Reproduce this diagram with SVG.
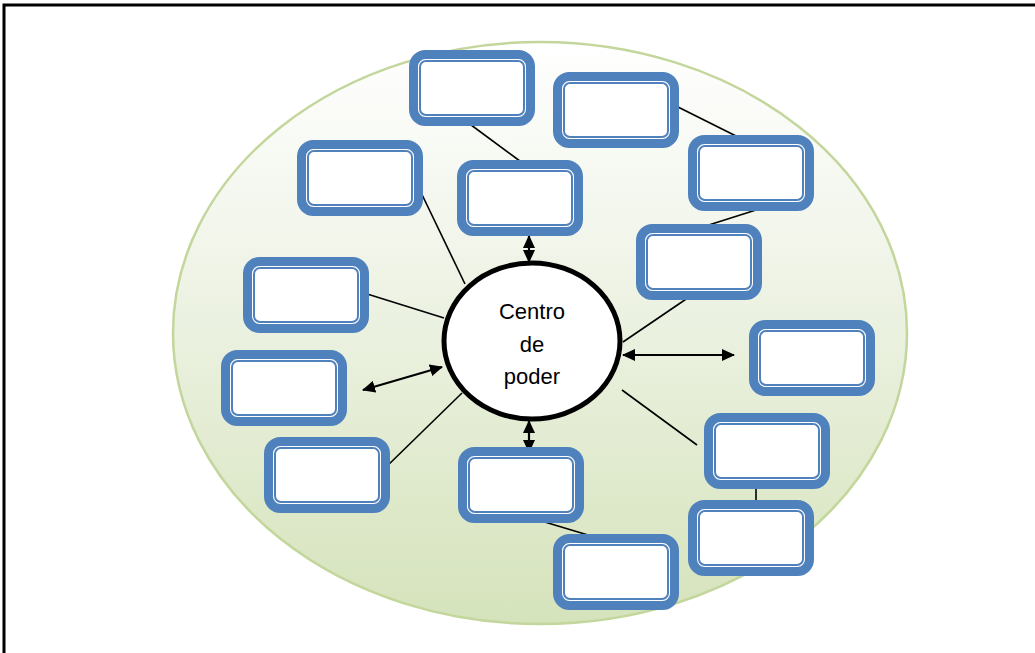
<svg xmlns="http://www.w3.org/2000/svg" width="1035" height="653" viewBox="0 0 1035 653">
  <defs>
    <linearGradient id="bg" x1="0" y1="0" x2="0" y2="1">
      <stop offset="0" stop-color="#ffffff"/>
      <stop offset="0.35" stop-color="#f1f5ea"/>
      <stop offset="1" stop-color="#d5e3bb"/>
    </linearGradient>
    <marker id="ah" viewBox="0 0 13 12" refX="12" refY="6" markerWidth="13" markerHeight="12" markerUnits="userSpaceOnUse" orient="auto-start-reverse">
      <path d="M0,0 L13,6 L0,12 Z" fill="#000"/>
    </marker>
    <g id="box">
      <rect x="4.5" y="4.5" width="117" height="67" rx="12" fill="#fff" stroke="#4f81bd" stroke-width="9"/>
      <rect x="11" y="11" width="104" height="54" rx="6" fill="#fff" stroke="#4f81bd" stroke-width="2"/>
    </g>
  </defs>
  <style>
    .ln { stroke: #000; stroke-width: 1.6; fill: none; }
    .arr { stroke: #000; stroke-width: 2.2; fill: none; marker-start: url(#ah); marker-end: url(#ah); }
    .lbl { font-family: "Liberation Sans", Arial, sans-serif; font-size: 22px; fill: #000; text-anchor: middle; }
  </style>

  <rect width="1035" height="653" fill="#fff"/>
  <!-- page frame -->
  <path d="M4,653 V5 H1035" fill="none" stroke="#000" stroke-width="3"/>

  <!-- background oval -->
  <ellipse id="field" cx="540" cy="333" rx="367" ry="291" fill="url(#bg)" stroke="#c3d69b" stroke-width="2.5"/>

  <!-- connectors -->
  <g id="connectors">
    <line class="ln" x1="463" y1="119" x2="528" y2="167"/>
    <line class="ln" x1="672" y1="104" x2="746" y2="141"/>
    <line class="ln" x1="756" y1="210" x2="693" y2="230"/>
    <line class="ln" x1="695" y1="293" x2="623" y2="342"/>
    <line class="ln" x1="415" y1="180" x2="465" y2="284"/>
    <line class="ln" x1="364" y1="293" x2="444" y2="318"/>
    <line class="ln" x1="383" y1="470" x2="462" y2="393"/>
    <line class="ln" x1="622" y1="390" x2="697" y2="445"/>
    <line class="ln" x1="756" y1="484" x2="756" y2="508"/>
    <line class="ln" x1="528" y1="517" x2="608" y2="541"/>
    <line class="arr" x1="529" y1="236" x2="529" y2="262"/>
    <line class="arr" x1="529" y1="421" x2="529" y2="452"/>
    <line class="arr" x1="623" y1="355" x2="734" y2="355"/>
    <line class="arr" x1="363" y1="390" x2="442" y2="367"/>
  </g>

  <!-- centre node -->
  <g id="centro">
    <ellipse cx="532" cy="341" rx="88" ry="78" fill="#fff" stroke="#000" stroke-width="5"/>
    <text class="lbl" x="532" y="319">Centro</text>
    <text class="lbl" x="532" y="352">de</text>
    <text class="lbl" x="532" y="384">poder</text>
  </g>

  <!-- surrounding boxes -->
  <use id="b1" href="#box" x="409" y="50"/>
  <use id="b2" href="#box" x="553" y="72"/>
  <use id="b3" href="#box" x="297" y="140"/>
  <use id="b4" href="#box" x="457" y="160"/>
  <use id="b5" href="#box" x="688" y="135"/>
  <use id="b6" href="#box" x="636" y="224"/>
  <use id="b7" href="#box" x="243" y="257"/>
  <use id="b8" href="#box" x="749" y="320"/>
  <use id="b9" href="#box" x="221" y="350"/>
  <use id="b10" href="#box" x="264" y="437"/>
  <use id="b11" href="#box" x="458" y="447"/>
  <use id="b12" href="#box" x="704" y="413"/>
  <use id="b13" href="#box" x="688" y="500"/>
  <use id="b14" href="#box" x="553" y="534"/>
</svg>
